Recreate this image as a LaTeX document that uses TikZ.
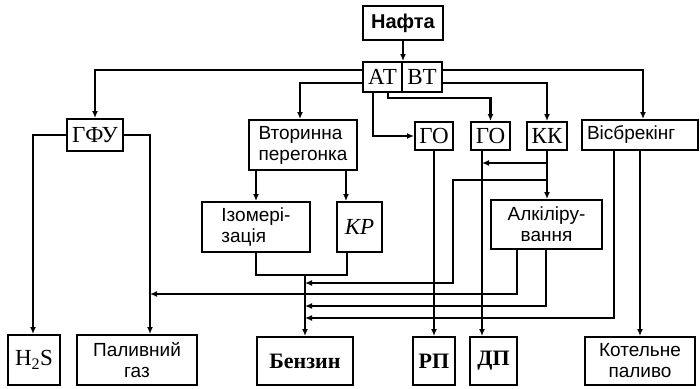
\documentclass[tikz,border=0pt]{standalone}
\usepackage{fontspec}
\setmainfont{Liberation Serif}
\setsansfont{Liberation Sans}
\usetikzlibrary{arrows.meta}

\begin{document}
\begin{tikzpicture}[x=1pt, y=-1pt, line width=2.2pt,
    box/.style={draw, line width=2pt, inner sep=0pt},
    ser/.style={box, font=\fontsize{23}{25}\selectfont},
    serb/.style={box, font=\bfseries\fontsize{22}{24}\selectfont},
    san/.style={box, font=\sffamily\fontsize{19}{21}\selectfont, align=center},
    arr/.style={-{Latex[length=7pt,width=6pt]}}]
  \useasboundingbox (0,0) rectangle (700,388);

  % top
  \node[box, font=\sffamily\bfseries\fontsize{20}{22}\selectfont,
    minimum width=80pt, minimum height=34pt] (nafta) at (403,23) {Нафта};
  \node[ser, minimum width=39pt, minimum height=30pt] (at) at (382.5,77) {АТ};
  \node[ser, minimum width=40pt, minimum height=30pt] (vt) at (422,77) {ВТ};

  % second row
  \node[ser, minimum width=56pt, minimum height=32pt] (gfu) at (95,135) {ГФУ};
  \node[san, align=left, minimum width=108pt, minimum height=50pt] (vtor) at (303,145)
    {Вторинна\\перегонка};
  \node[ser, minimum width=38pt, minimum height=28pt] (go1) at (434,136) {ГО};
  \node[ser, minimum width=39pt, minimum height=28pt] (go2) at (490.5,136) {ГО};
  \node[ser, minimum width=40pt, minimum height=28pt] (kk) at (547,136) {КК};
  \node[san, align=left, text width=106pt, minimum width=116pt, minimum height=30pt]
    (visb) at (640,135) {Вісбрекінг};

  % third row
  \node[san, align=left, minimum width=108pt, minimum height=50pt] (izo) at (256,227)
    {Ізомері-\\зація};
  \node[ser, font=\itshape\fontsize{23}{25}\selectfont,
    minimum width=45pt, minimum height=50pt] (kr) at (359.5,227) {КР};
  \node[san, minimum width=111pt, minimum height=49pt] (alk) at (546.5,224.5)
    {Алкіліру-\\вання};

  % products
  \node[ser, minimum width=52pt, minimum height=50pt] (h2s) at (34,360) {H\textsubscript{2}S};
  \node[san, minimum width=120pt, minimum height=50pt] (gaz) at (137,360) {Паливний\\газ};
  \node[serb, minimum width=96pt, minimum height=48pt] (benz) at (305,361) {Бензин};
  \node[serb, minimum width=42pt, minimum height=48pt] (rp) at (434,361) {РП};
  \node[serb, minimum width=47pt, minimum height=48pt] (dp) at (493.5,361) {ДП};
  \node[san, minimum width=110pt, minimum height=48pt] (kotel) at (640,361)
    {Котельне\\паливо};

  % from crude unit
  \draw[arr] (nafta.south) -- (at.north -| nafta.south);
  \draw[arr] (at.west |- 0,70) -| (gfu.north);
  \draw[arr] (at.west |- 0,83) -| (vtor.north -| 300,0);
  \draw[arr] (vt.east |- 0,70) -| (visb.north -| 643,0);
  \draw[arr] (vt.east |- 0,83) -| (kk.north);
  \draw[arr] (at.south -| 373,0) |- (go1.west);
  \draw[arr] (at.south -| 388,0) -- (388,98) -| (go2.north);

  % gas plant
  \draw[arr] (gfu.west) -| (h2s.north -| 33,0);
  \draw[arr] (gfu.east) -| (gaz.north -| 150,0);

  % secondary distillation
  \draw[arr] (vtor.south -| izo.north) -- (izo.north);
  \draw[arr] (vtor.south -| 346,0) -- (kr.north -| 346,0);
  \coordinate (mix) at (305,275);
  \draw (izo.south) |- (mix) -| (kr.south -| 347,0);
  \draw[arr] (mix) -- (benz.north);

  % hydrotreating and cracking
  \draw[arr] (go1.south) -- (rp.north);
  \draw[arr] (go2.south -| 482,0) -- (dp.north -| 482,0);
  \draw[arr] (kk.south) -- (alk.north -| kk.south);
  \draw[arr] (kk.south |- 0,163) -- (482,163);
  \draw[arr] (kk.south |- 0,180) -| (453,283) -- (mix |- 0,283);
  \draw[arr] (alk.south -| 517,0) |- (150,294);
  \draw[arr] (alk.south -| 546,0) |- (mix |- 0,306);
  \draw[arr] (visb.south -| 614,0) |- (mix |- 0,318);
  \draw[arr] (visb.south -| kotel.north) -- (kotel.north);
\end{tikzpicture}
\end{document}
